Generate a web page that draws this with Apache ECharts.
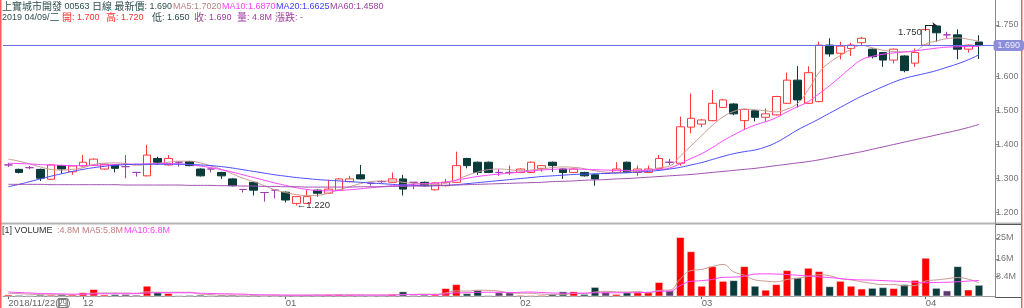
<!DOCTYPE html>
<html>
<head>
<meta charset="utf-8">
<script src="https://cdn.jsdelivr.net/npm/echarts@6/dist/echarts.min.js"></script>
<style>html,body{margin:0;padding:0;background:#fff}#main{width:1024px;height:308px}</style>
</head>
<body>
<div id="main"></div>
<script>
// 上實城市開發 00563 日線  2018/11/22 - 2019/04/09
const dates = [
  '2018-11-22','2018-11-23','2018-11-26','2018-11-27','2018-11-28','2018-11-29','2018-11-30',
  '2018-12-03','2018-12-04','2018-12-05','2018-12-06','2018-12-07','2018-12-10','2018-12-11','2018-12-12','2018-12-13','2018-12-14',
  '2018-12-17','2018-12-18','2018-12-19','2018-12-20','2018-12-21','2018-12-24','2018-12-27','2018-12-28','2018-12-31',
  '2019-01-02','2019-01-03','2019-01-04','2019-01-07','2019-01-08','2019-01-09','2019-01-10','2019-01-11',
  '2019-01-14','2019-01-15','2019-01-16','2019-01-17','2019-01-18','2019-01-21','2019-01-22','2019-01-23','2019-01-24','2019-01-25',
  '2019-01-28','2019-01-29','2019-01-30','2019-01-31',
  '2019-02-01','2019-02-04','2019-02-08','2019-02-11','2019-02-12','2019-02-13','2019-02-14','2019-02-15',
  '2019-02-18','2019-02-19','2019-02-20','2019-02-21','2019-02-22','2019-02-25','2019-02-26','2019-02-27','2019-02-28',
  '2019-03-01','2019-03-04','2019-03-05','2019-03-06','2019-03-07','2019-03-08','2019-03-11','2019-03-12','2019-03-13','2019-03-14','2019-03-15',
  '2019-03-18','2019-03-19','2019-03-20','2019-03-21','2019-03-22','2019-03-25','2019-03-26','2019-03-27','2019-03-28','2019-03-29',
  '2019-04-01','2019-04-02','2019-04-03','2019-04-04','2019-04-08','2019-04-09'
];

const open = [
  1.339,1.326,1.331,1.326,1.297,1.337,1.319,1.336,1.338,1.327,
  1.339,1.334,1.317,1.307,1.358,1.339,1.347,1.349,1.327,1.327,
  1.317,1.298,1.267,1.288,1.258,1.265,1.259,1.226,1.226,1.265,
  1.256,1.265,1.290,1.310,1.285,1.290,1.288,1.298,1.288,1.288,
  1.266,1.278,1.288,1.358,1.347,1.347,1.317,1.317,1.317,1.317,
  1.329,1.347,1.327,1.317,1.317,1.310,1.314,1.317,1.347,1.317,
  1.317,1.329,1.347,1.344,1.450,1.459,1.469,1.508,1.518,1.469,
  1.498,1.479,1.486,1.520,1.588,1.520,1.525,1.691,1.667,1.681,
  1.698,1.679,1.669,1.647,1.659,1.638,1.691,1.747,1.721,1.721,
  1.679,1.700
];
const close = [
  1.339,1.317,1.331,1.300,1.339,1.327,1.336,1.347,1.356,1.341,
  1.329,1.334,1.317,1.368,1.347,1.358,1.347,1.337,1.307,1.327,
  1.307,1.278,1.267,1.265,1.258,1.265,1.236,1.246,1.246,1.256,
  1.268,1.298,1.298,1.298,1.285,1.290,1.298,1.268,1.288,1.278,
  1.286,1.288,1.337,1.337,1.317,1.317,1.317,1.317,1.327,1.347,
  1.337,1.337,1.317,1.327,1.307,1.298,1.314,1.327,1.317,1.327,
  1.327,1.358,1.347,1.451,1.476,1.471,1.520,1.530,1.489,1.502,
  1.479,1.489,1.540,1.588,1.530,1.610,1.691,1.665,1.688,1.691,
  1.711,1.657,1.647,1.679,1.616,1.669,1.737,1.727,1.721,1.679,
  1.691,1.690
];
const low = [
  1.333,1.314,1.326,1.292,1.295,1.314,1.310,1.334,1.336,1.325,
  1.317,1.300,1.305,1.305,1.339,1.337,1.334,1.335,1.305,1.317,
  1.298,1.276,1.258,1.249,1.231,1.241,1.229,1.220,1.224,1.246,
  1.254,1.263,1.288,1.296,1.278,1.286,1.286,1.249,1.268,1.276,
  1.264,1.276,1.286,1.329,1.310,1.315,1.307,1.310,1.315,1.315,
  1.319,1.319,1.298,1.315,1.305,1.278,1.312,1.315,1.315,1.307,
  1.315,1.327,1.339,1.337,1.432,1.450,1.467,1.506,1.485,1.442,
  1.467,1.467,1.484,1.518,1.508,1.518,1.523,1.657,1.649,1.659,
  1.691,1.652,1.627,1.637,1.611,1.627,1.689,1.701,1.711,1.649,
  1.669,1.650
];
const high = [
  1.345,1.328,1.336,1.328,1.341,1.339,1.338,1.368,1.358,1.343,
  1.341,1.368,1.317,1.398,1.363,1.368,1.349,1.351,1.329,1.327,
  1.319,1.300,1.267,1.290,1.258,1.265,1.261,1.248,1.265,1.267,
  1.295,1.300,1.307,1.339,1.285,1.294,1.317,1.310,1.288,1.290,
  1.288,1.298,1.378,1.360,1.349,1.349,1.327,1.337,1.329,1.349,
  1.339,1.349,1.329,1.329,1.319,1.312,1.316,1.347,1.349,1.337,
  1.337,1.368,1.357,1.481,1.549,1.474,1.559,1.533,1.520,1.504,
  1.500,1.505,1.542,1.610,1.629,1.629,1.701,1.711,1.701,1.698,
  1.715,1.681,1.671,1.681,1.661,1.681,1.740,1.750,1.730,1.737,
  1.693,1.720
];

const ma5 = [
  1.356,1.350,1.342,1.333,1.326,1.324,1.326,1.331,1.340,1.344,
  1.345,1.343,1.338,1.340,1.343,1.347,1.350,1.350,1.345,1.336,
  1.326,1.313,1.300,1.290,1.278,1.266,1.258,1.252,1.249,1.250,
  1.256,1.266,1.275,1.284,1.290,1.292,1.292,1.288,1.285,1.283,
  1.282,1.285,1.295,1.308,1.318,1.325,1.327,1.325,1.322,1.324,
  1.327,1.331,1.333,1.332,1.328,1.322,1.318,1.316,1.318,1.320,
  1.323,1.330,1.336,1.365,1.395,1.425,1.455,1.480,1.496,1.503,
  1.501,1.498,1.495,1.503,1.520,1.560,1.610,1.640,1.660,1.678,
  1.690,1.683,1.676,1.672,1.671,1.674,1.694,1.703,1.710,1.712,
  1.708,1.702
];
const ma10 = [
  1.344,1.343,1.342,1.340,1.339,1.338,1.337,1.337,1.338,1.339,
  1.340,1.341,1.341,1.342,1.343,1.343,1.342,1.340,1.336,1.331,
  1.325,1.318,1.310,1.302,1.294,1.286,1.279,1.272,1.267,1.264,
  1.263,1.264,1.266,1.269,1.272,1.275,1.278,1.280,1.282,1.284,
  1.286,1.289,1.294,1.300,1.305,1.309,1.312,1.315,1.318,1.321,
  1.324,1.326,1.327,1.327,1.326,1.325,1.324,1.323,1.323,1.323,
  1.324,1.326,1.330,1.343,1.358,1.372,1.390,1.410,1.427,1.443,
  1.456,1.466,1.478,1.495,1.510,1.525,1.548,1.572,1.598,1.625,
  1.648,1.658,1.664,1.668,1.671,1.674,1.678,1.682,1.685,1.686,
  1.687,1.687
];
const ma20 = [
  1.275,1.282,1.290,1.298,1.306,1.313,1.320,1.326,1.331,1.335,
  1.338,1.340,1.341,1.341,1.341,1.341,1.341,1.340,1.339,1.337,
  1.334,1.330,1.325,1.320,1.315,1.310,1.306,1.302,1.299,1.296,
  1.294,1.292,1.290,1.288,1.286,1.284,1.282,1.280,1.279,1.278,
  1.278,1.279,1.281,1.284,1.287,1.290,1.293,1.296,1.299,1.302,
  1.305,1.307,1.309,1.311,1.312,1.313,1.314,1.315,1.316,1.318,
  1.320,1.323,1.327,1.332,1.339,1.346,1.355,1.364,1.372,1.378,
  1.383,1.392,1.405,1.423,1.442,1.458,1.474,1.491,1.508,1.525,
  1.541,1.555,1.569,1.582,1.593,1.601,1.608,1.616,1.626,1.636,
  1.648,1.6625
];
const ma60 = [
  1.282,1.282,1.282,1.282,1.281,1.281,1.281,1.281,1.281,1.281,
  1.281,1.280,1.280,1.280,1.280,1.280,1.280,1.279,1.279,1.279,
  1.278,1.278,1.277,1.277,1.276,1.276,1.275,1.275,1.274,1.274,
  1.274,1.274,1.274,1.275,1.275,1.275,1.276,1.276,1.277,1.277,
  1.278,1.279,1.280,1.281,1.282,1.283,1.284,1.285,1.286,1.287,
  1.288,1.290,1.291,1.292,1.294,1.295,1.296,1.298,1.299,1.301,
  1.303,1.305,1.307,1.309,1.311,1.314,1.317,1.320,1.323,1.326,
  1.329,1.333,1.337,1.341,1.345,1.349,1.354,1.360,1.366,1.372,
  1.378,1.385,1.392,1.399,1.406,1.413,1.420,1.427,1.434,1.441,
  1.449,1.458
];

// volume in millions
const volume = [
  0.7,0.5,0.4,0.6,0.6,0.8,0.7,1.6,3.0,0.7,
  0.8,0.9,0.6,4.4,1.6,1.3,0.4,0.5,0.6,0.4,
  0.6,0.6,0.4,0.5,0.3,0.3,0.4,0.4,0.6,0.5,
  0.7,0.7,0.6,0.4,0.3,0.4,0.9,2.0,0.5,0.6,
  0.7,3.4,5.1,1.2,2.6,0.4,1.6,1.6,0.5,0.4,
  0.5,0.9,2.0,2.0,0.9,3.9,1.8,0.9,1.6,1.6,
  1.6,6.0,2.4,25.3,19.2,4.4,12.8,6.5,6.8,12.8,
  4.4,2.7,5.1,11.1,8.0,12.1,10.7,4.2,6.5,4.4,
  3.2,3.5,3.8,3.4,5.1,6.9,16.4,3.5,2.4,12.8,
  2.8,4.8
];
const volMa5 = [
  1.2,1.1,0.9,0.7,0.6,0.6,0.6,0.9,1.3,1.4,
  1.4,1.4,1.3,1.9,1.7,1.7,1.7,1.7,0.9,0.7,
  0.5,0.5,0.5,0.5,0.5,0.4,0.4,0.4,0.4,0.5,
  0.5,0.6,0.6,0.6,0.5,0.5,0.6,0.8,0.8,0.9,
  0.9,1.4,2.3,2.2,2.6,2.5,2.2,1.5,1.3,1.3,
  0.9,0.8,0.8,1.2,1.3,1.8,2.1,1.9,1.8,2.0,
  1.5,2.5,2.7,7.4,11.0,11.5,12.7,13.6,10.5,9.0,
  7.0,6.5,6.2,7.2,7.7,8.5,9.2,8.8,7.5,7.0,
  6.2,5.5,5.0,5.0,4.5,4.6,6.5,7.0,7.5,8.0,
  7.3,5.8
];
const volMa10 = [
  1.8,1.6,1.4,1.2,1.1,1.0,0.9,0.9,1.0,1.1,
  1.1,1.1,1.1,1.4,1.5,1.5,1.5,1.5,1.3,1.2,
  1.1,1.0,0.9,0.7,0.6,0.6,0.5,0.5,0.5,0.5,
  0.5,0.5,0.5,0.5,0.5,0.5,0.5,0.7,0.7,0.7,
  0.7,1.0,1.5,1.5,1.7,1.7,1.7,1.6,1.7,1.8,
  1.6,1.4,1.3,1.3,1.3,1.5,1.5,1.5,1.5,1.6,
  1.7,2.1,2.2,4.6,6.4,6.7,7.2,8.1,8.2,8.6,
  9.5,9.6,9.5,9.3,9.0,8.7,8.3,8.0,7.6,7.2,
  7.0,6.9,6.7,6.5,6.3,6.0,5.8,5.9,6.0,6.2,
  6.5,6.8
];

const priceTicks = [1.2, 1.3, 1.4, 1.5, 1.6, 1.75];
const volTicks = [8.4, 16, 25];

const UP = '#ff3a3a', DOWN = '#0b3a3a', DOJI = '#a040b0';
const C_MA5 = '#c99a94', C_MA10 = '#ff44ff', C_MA20 = '#4c4cff', C_MA60 = '#a050b0';
const C_LAST = '#6a6aea';
const FONT = '"Liberation Sans", "Noto Sans CJK TC", sans-serif';
const weekday = ['日', '一', '二', '三', '四', '五', '六'];

const n = dates.length;
const last = n - 1;
const cats = dates.concat(['']);   // one empty slot at the right edge
const candles = dates.map((d, i) => [open[i], close[i], low[i], high[i]]);
const volBars = volume.map((v, i) => {
  let c = close[i] > open[i] ? '#ff0000' : close[i] < open[i] ? DOWN : (i === 0 ? '#ff0000' : '#5a3a6a');
  return { value: v, itemStyle: { color: c } };
});
const hiVal = Math.max(...high), hiIdx = high.indexOf(hiVal);
const loVal = Math.min(...low), loIdx = low.indexOf(loVal);

function monthStart(i) {
  return i > 0 && i < n && dates[i].slice(5, 7) !== dates[i - 1].slice(5, 7);
}
function dayName(d) {
  const t = new Date(d + 'T00:00:00');
  return weekday[t.getDay()];
}

// split a string into CJK / latin runs so each gets its own size
function rich(str) {
  let out = '', run = '', cjk = null;
  for (const ch of str) {
    const isC = /[\u3000-\u9fff\uff00-\uffef]/.test(ch);
    if (cjk !== null && isC !== cjk) { out += '{' + (cjk ? 'k' : 'l') + '|' + run + '}'; run = ''; }
    cjk = isC; run += ch;
  }
  if (run) out += '{' + (cjk ? 'k' : 'l') + '|' + run + '}';
  return out;
}
function txt(x, y, str, color) {
  return {
    type: 'text', x: x, y: y, silent: true,
    style: {
      text: rich(str), fill: color, verticalAlign: 'middle',
      rich: {
        k: { fill: color, fontSize: 10, fontFamily: '"Noto Sans CJK TC"' },
        l: { fill: color, fontSize: 9, fontFamily: '"Liberation Sans"' }
      }
    }
  };
}

const d = dates[last];
const dateTxt = d.slice(0, 4) + ' ' + d.slice(5, 7) + '/' + d.slice(8, 10) + '/' + dayName(d);

const graphics = [
  txt(2, 6.5, '上實城市開發 00563 日線 最新價: ' + close[last].toFixed(3), '#2f4f4f'),
  txt(173, 6.5, 'MA5:' + ma5[last].toFixed(4), '#c08080'),
  txt(222, 6.5, 'MA10:' + ma10[last].toFixed(4), '#ff40ff'),
  txt(276, 6.5, 'MA20:' + ma20[last].toFixed(4), '#4040ff'),
  txt(330, 6.5, 'MA60:' + ma60[last].toFixed(4), '#a040a0'),
  txt(2, 17.5, dateTxt, '#2f4f4f'),
  txt(62, 17.5, '開: ' + open[last].toFixed(3), '#ff3030'),
  txt(106, 17.5, '高: ' + high[last].toFixed(3), '#ff3030'),
  txt(152, 17.5, '低: ' + low[last].toFixed(3), '#2f4f4f'),
  txt(194, 17.5, '收: ' + close[last].toFixed(3), '#a040a0'),
  txt(237, 17.5, '量: ' + volume[last].toFixed(1) + 'M', '#a040a0'),
  txt(275, 17.5, '漲跌: -', '#a040a0'),
  txt(2, 231, '[1] VOLUME', '#333333'),
  txt(57, 231, ':' + volume[last].toFixed(1) + 'M', '#c08080'),
  txt(82, 231, 'MA5:' + volMa5[last].toFixed(1) + 'M', '#c08080'),
  txt(124, 231, 'MA10:' + volMa10[last].toFixed(1) + 'M', '#ff40ff'),
  // frame lines
  { type: 'line', silent: true, shape: { x1: 0, y1: 223.5, x2: 1022, y2: 223.5 }, style: { stroke: '#b4b4b4', lineWidth: 2 } },
  { type: 'rect', silent: true, shape: { x: 995.5, y: 224.5, width: 26, height: 73 }, style: { fill: 'none', stroke: '#555', lineWidth: 1 } },
  { type: 'rect', silent: true, shape: { x: 0, y: 0, width: 1.5, height: 308 }, style: { fill: '#ff5a5a' } },
  { type: 'rect', silent: true, shape: { x: 1021, y: 0, width: 1.5, height: 308 }, style: { fill: '#ff5a5a' } }
];

const lineSeries = (name, data, color, xi) => ({
  name: name, type: 'line', data: data, xAxisIndex: xi, yAxisIndex: xi,
  smooth: true, showSymbol: false, symbol: 'none', silent: true,
  lineStyle: { color: color, width: 1 }, z: 3
});

const chart = echarts.init(document.getElementById('main'));
chart.setOption({
  animation: false,
  backgroundColor: '#fff',
  textStyle: { fontFamily: FONT },
  axisPointer: { show: true, triggerOn: 'none' },
  grid: [
    { left: 3, right: 29, top: 0, height: 223 },
    { left: 3, right: 29, top: 223, height: 74 }
  ],
  xAxis: [
    { type: 'category', gridIndex: 0, data: cats, boundaryGap: true,
      axisLine: { show: false }, axisTick: { show: false }, axisLabel: { show: false }, splitLine: { show: false } },
    { type: 'category', gridIndex: 1, data: cats, boundaryGap: true,
      axisLine: { show: true, lineStyle: { color: '#999', width: 1 } },
      axisTick: { show: true, alignWithLabel: true, length: 3, inside: false, lineStyle: { color: '#666' },
        interval: (i) => i === 0 || monthStart(i) },
      axisLabel: {
        interval: (i) => i === 0 || monthStart(i),
        align: 'left', margin: 2, fontSize: 9.5, color: '#666', fontFamily: FONT,
        formatter: (v, i) => i === 0
          ? v.slice(0, 4) + '/' + v.slice(5, 7) + '/' + v.slice(8, 10) + '({b|' + dayName(v) + '})'
          : v.slice(5, 7),
        rich: { b: { borderColor: '#777', borderWidth: 1, padding: [0, 0, 0, 0], fontSize: 9, color: '#666', fontFamily: '"Noto Sans CJK TC"' } }
      },
      splitLine: { show: false } }
  ],
  yAxis: [
    { type: 'value', gridIndex: 0, position: 'right', min: 1.1685, max: 1.8234, scale: true,
      axisLine: { show: true, lineStyle: { color: '#8a8a8a' } },
      axisTick: { show: true, length: 4, lineStyle: { color: '#8a8a8a' }, customValues: priceTicks },
      axisLabel: { customValues: priceTicks, formatter: (v) => v.toFixed(3), fontSize: 9, color: '#777', margin: 1, fontFamily: FONT },
      splitLine: { show: false },
      // last price line + tag on the axis
      axisPointer: {
        show: true, type: 'line', value: close[last], status: 'show', snap: false, triggerTooltip: false,
        lineStyle: { color: C_LAST, width: 1, type: 'solid' },
        label: { show: true, formatter: (p) => Number(p.value).toFixed(3), backgroundColor: '#8c8cd8', color: '#f0f0ff',
          fontSize: 9, padding: [1, 4, 1, 4], margin: 1, fontFamily: FONT, shadowBlur: 0 }
      } },
    { type: 'value', gridIndex: 1, position: 'right', min: 0, max: 31.4,
      axisLine: { show: true, lineStyle: { color: '#8a8a8a' } },
      axisTick: { show: true, length: 4, lineStyle: { color: '#8a8a8a' }, customValues: volTicks },
      axisLabel: { customValues: volTicks, formatter: (v) => v + 'M', fontSize: 9, color: '#777', margin: 1, fontFamily: FONT },
      splitLine: { show: false } }
  ],
  series: [
    {
      name: 'K', type: 'candlestick', data: candles, xAxisIndex: 0, yAxisIndex: 0,
      barWidth: 8, silent: true, z: 2,
      itemStyle: {
        color: '#ffffff', color0: DOWN,
        borderColor: UP, borderColor0: DOWN, borderColorDoji: DOJI, borderWidth: 1
      },
      markLine: {
        silent: true, symbol: 'none', animation: false,
        lineStyle: { color: '#222', type: 'solid', width: 1 },
        label: { show: false },
        data: [
          // leader from the high label to the highest bar
          [{ coord: [hiIdx - 1, hiVal - 0.017] }, { coord: [hiIdx - 1, hiVal] }],
          [{ coord: [hiIdx - 1, hiVal] }, { coord: [hiIdx, hiVal], symbol: 'arrow', symbolSize: 4 }]
        ]
      },
      markPoint: {
        silent: true, animation: false, symbol: 'circle', symbolSize: 1,
        itemStyle: { color: 'rgba(0,0,0,0)' },
        data: [
          { coord: [hiIdx, hiVal],
            label: { show: true, formatter: hiVal.toFixed(3), position: 'left', distance: 14, offset: [0, 7],
              color: '#333', fontSize: 9.5, fontFamily: FONT } },
          { coord: [loIdx, loVal],
            label: { show: true, formatter: '←' + loVal.toFixed(3), position: 'right', distance: 0,
              color: '#333', fontSize: 9.5, fontFamily: FONT } }
        ]
      }
    },
    lineSeries('MA5', ma5, C_MA5, 0),
    lineSeries('MA10', ma10, C_MA10, 0),
    lineSeries('MA20', ma20, C_MA20, 0),
    lineSeries('MA60', ma60, C_MA60, 0),
    { name: 'VOL', type: 'bar', data: volBars, xAxisIndex: 1, yAxisIndex: 1, barWidth: 8, silent: true,
      itemStyle: { borderColor: '#ffffff', borderWidth: 0.5 } },
    lineSeries('VMA5', volMa5, C_MA5, 1),
    lineSeries('VMA10', volMa10, C_MA10, 1)
  ],
  graphic: graphics
});
</script>
</body>
</html>
